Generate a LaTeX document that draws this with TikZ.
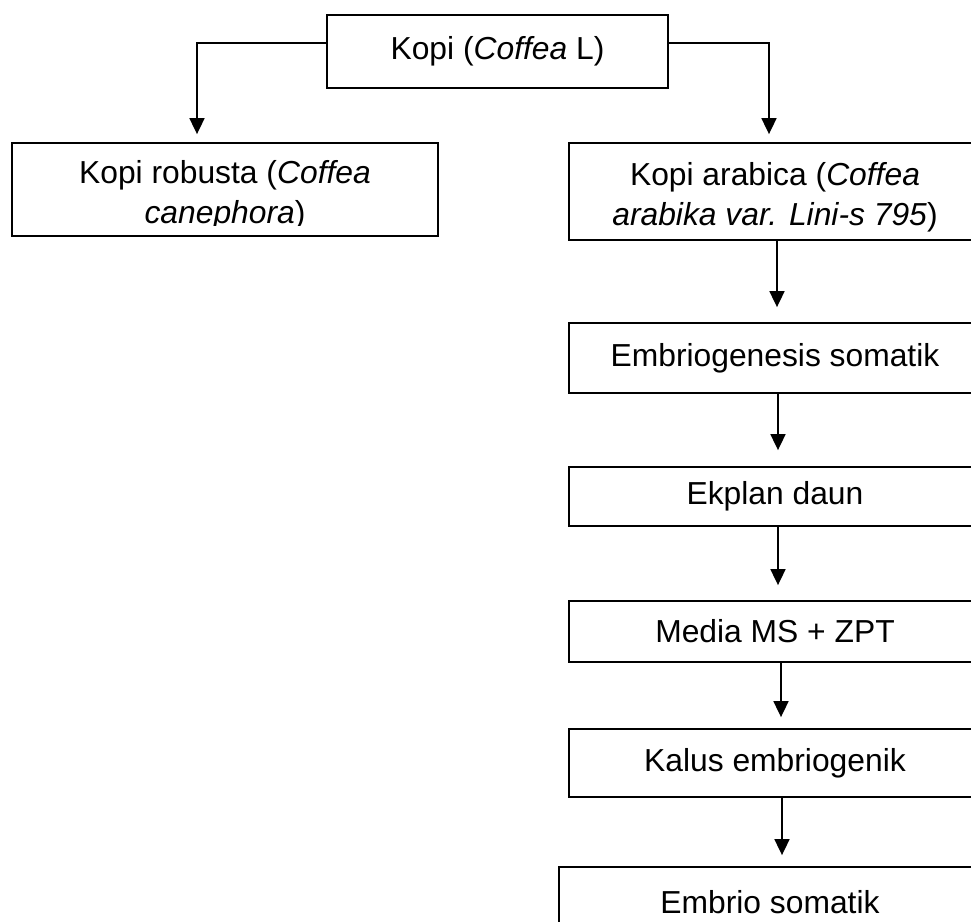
\documentclass[tikz,border=0pt]{standalone}
\usepackage{fontspec}
\setmainfont{Liberation Sans}
\usepackage{tikz}
\usetikzlibrary{arrows.meta, positioning, calc}

\begin{document}
\begin{tikzpicture}[x=0.5pt, y=-0.5pt, every node/.style={rectangle,draw,line width=0.9pt,inner sep=0pt,align=center,font=\fontsize{15.9pt}{20pt}\selectfont}]
    \useasboundingbox (0,0) rectangle (971,922);
    \clip (0,0) rectangle (971,922);

    \node[minimum width=170.5pt, minimum height=36.5pt] (kopi) at (497.5,51.5) {Kopi (\textit{Coffea} L)};
    \node[minimum width=213pt, minimum height=46.5pt] (robusta) at (225,189.5) {\rule{0pt}{17pt}Kopi robusta (\textit{Coffea}\\ \textit{canephora})};
    \node[minimum width=206pt, minimum height=48.5pt] (arabica) at (775,191.5) {\rule{0pt}{17pt}Kopi arabica (\textit{Coffea}\\ \textit{arabika var. Lini-s 795})};
    \node[minimum width=206pt, minimum height=35pt] (embgen) at (775,358) {Embriogenesis somatik};
    \node[minimum width=206pt, minimum height=29.5pt] (ekplan) at (775,496.5) {Ekplan daun};
    \node[minimum width=206pt, minimum height=30.5pt] (media) at (775,631.5) {Media MS + ZPT};
    \node[minimum width=206pt, minimum height=34pt] (kalus) at (775,763) {Kalus embriogenik};
    \node[minimum width=211pt, minimum height=35pt] (embrio) at (770,902) {Embrio somatik};

    % text of the robusta box is cut at its last baseline
    \fill[white] ($(robusta.south west)+(2,-11)$) rectangle ($(robusta.south east)+(-2,-2)$);

    \draw[-{Triangle[length=8pt,width=7.5pt]},line width=0.9pt,shorten >=4pt] ([yshift=4.25pt]kopi.west) -| ([xshift=-14pt]robusta.north);
    \draw[-{Triangle[length=8pt,width=7.5pt]},line width=0.9pt,shorten >=4pt] ([yshift=4.25pt]kopi.east) -| ([xshift=-3pt]arabica.north);
    \draw[-{Triangle[length=8pt,width=7.5pt]},line width=0.9pt,shorten >=7.5pt] ([xshift=1pt]arabica.south) -- ([xshift=1pt]embgen.north);
    \draw[-{Triangle[length=8pt,width=7.5pt]},line width=0.9pt,shorten >=8pt] ([xshift=1.5pt]embgen.south) -- ([xshift=1.5pt]ekplan.north);
    \draw[-{Triangle[length=8pt,width=7.5pt]},line width=0.9pt,shorten >=7.5pt] ([xshift=1.5pt]ekplan.south) -- ([xshift=1.5pt]media.north);
    \draw[-{Triangle[length=8pt,width=7.5pt]},line width=0.9pt,shorten >=5.5pt] ([xshift=3pt]media.south) -- ([xshift=3pt]kalus.north);
    \draw[-{Triangle[length=8pt,width=7.5pt]},line width=0.9pt,shorten >=5.5pt] ([xshift=3.5pt]kalus.south) -- ([xshift=3.5pt]kalus.south |- embrio.north);
\end{tikzpicture}
\end{document}
